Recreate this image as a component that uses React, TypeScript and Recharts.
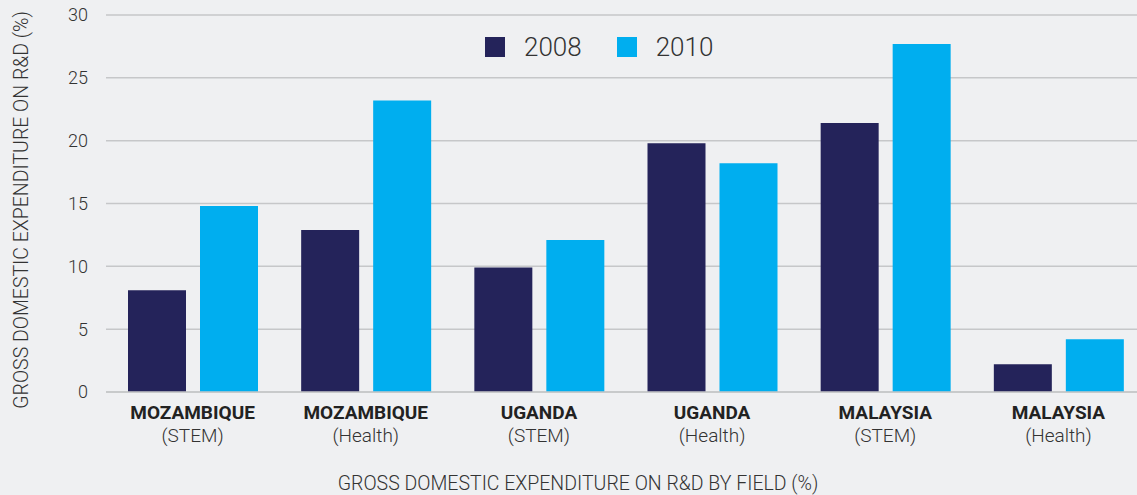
import React from 'react';
import { BarChart, Bar, XAxis, YAxis, CartesianGrid } from 'recharts';

const countries = ['MOZAMBIQUE', 'MOZAMBIQUE', 'UGANDA', 'UGANDA', 'MALAYSIA', 'MALAYSIA'];
const fields = ['(STEM)', '(Health)', '(STEM)', '(Health)', '(STEM)', '(Health)'];
const values2008 = [8.1, 12.9, 9.9, 19.8, 21.4, 2.2];
const values2010 = [14.8, 23.2, 12.1, 18.2, 27.7, 4.2];
const yTicks = [0, 5, 10, 15, 20, 25, 30];

const series = [
  { key: 'y2008', name: '2008', color: '#24235a' },
  { key: 'y2010', name: '2010', color: '#00aeef' },
];

const data = countries.map((country, i) => ({
  id: i,
  country,
  field: fields[i],
  y2008: values2008[i],
  y2010: values2010[i],
}));

const FONT = 'Roboto, "Liberation Sans", sans-serif';
const TEXT = '#333333';
const GRID = '#c6c7c9';

const CategoryTick = (props: any) => {
  const { x, y, payload } = props;
  const row = data[payload.value];
  return (
    <g>
      <text x={x} y={y + 27} textAnchor="middle" fontFamily={FONT} fontSize={19} fontWeight={700} fill="#222">
        {row.country}
      </text>
      <text x={x} y={y + 50} textAnchor="middle" fontFamily={FONT} fontSize={19} fontWeight={300} fill={TEXT}>
        {row.field}
      </text>
    </g>
  );
};

export default function App() {
  return (
    <div
      style={{
        position: 'absolute',
        left: 0,
        top: 0,
        width: 1137,
        height: 495,
        overflow: 'hidden',
        background: '#eff0f2',
        fontFamily: FONT,
      }}
    >
      <BarChart
        width={1145}
        height={495}
        data={data}
        margin={{ top: 15, right: 0, bottom: 0, left: 0 }}
        barSize={58}
        barGap={14}
      >
        <CartesianGrid vertical={false} stroke={GRID} strokeWidth={1.5} />
        <XAxis
          dataKey="id"
          height={103}
          tickLine={false}
          tickSize={0}
          tickMargin={0}
          axisLine={{ stroke: GRID, strokeWidth: 1.5 }}
          tick={<CategoryTick />}
          interval={0}
          label={{
            content: () => (
              <text x={578} y={490} textAnchor="middle" fontFamily={FONT} fontSize={19.5} fontWeight={300} fill={TEXT}>
                GROSS DOMESTIC EXPENDITURE ON R&amp;D BY FIELD (%)
              </text>
            ),
          }}
        />
        <YAxis
          width={106}
          domain={[0, 30]}
          ticks={yTicks}
          axisLine={false}
          tickLine={false}
          tickSize={0}
          tickMargin={18}
          tick={{ fill: TEXT, fontSize: 18, fontFamily: FONT, fontWeight: 300 }}
          label={{
            content: () => (
              <text
                x={21}
                y={210}
                transform="rotate(-90, 21, 210)"
                textAnchor="middle"
                dominantBaseline="central"
                fontFamily={FONT}
                fontSize={19.5}
                fontWeight={300}
                fill={TEXT}
              >
                GROSS DOMESTIC EXPENDITURE ON R&amp;D (%)
              </text>
            ),
          }}
        />
        {series.map((s) => (
          <Bar key={s.key} dataKey={s.key} name={s.name} fill={s.color} isAnimationActive={false} />
        ))}
      </BarChart>
      <div
        style={{
          position: 'absolute',
          left: 485,
          top: 37,
          display: 'flex',
          alignItems: 'center',
        }}
      >
        {series.map((s, i) => (
          <div key={s.key} style={{ display: 'flex', alignItems: 'center', marginRight: i === 0 ? 35 : 0 }}>
            <div style={{ width: 20, height: 20, background: s.color, marginRight: 19 }} />
            <span style={{ fontSize: 26, fontWeight: 300, color: TEXT, lineHeight: '20px' }}>{s.name}</span>
          </div>
        ))}
      </div>
    </div>
  );
}
